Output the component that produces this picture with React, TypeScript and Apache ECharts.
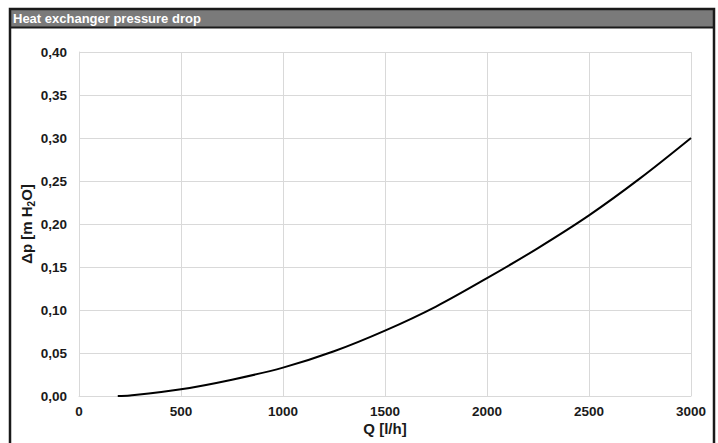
import React, { useEffect, useRef } from "react";
import * as echarts from "echarts";

const flowRates = [190, 250, 500, 750, 1000, 1250, 1500, 1750, 2000, 2250, 2500, 2750, 3000];
const pressureDrop = [0.0, 0.0006, 0.0078, 0.019, 0.033, 0.052, 0.076, 0.104, 0.137, 0.172, 0.21, 0.253, 0.3];
const xTicks = [0, 500, 1000, 1500, 2000, 2500, 3000];
const yTicks = [0, 0.05, 0.1, 0.15, 0.2, 0.25, 0.3, 0.35, 0.4];
const titleText = "Heat exchanger pressure drop";
const xName = "Q [l/h]";

export default function App() {
  const ref = useRef<HTMLDivElement>(null);
  useEffect(() => {
    if (!ref.current) return;
    const chart = echarts.init(ref.current, null, { renderer: "svg" });
    const font = "'Liberation Sans', Arial, sans-serif";
    chart.setOption({
      animation: false,
      backgroundColor: "#ffffff",
      grid: { left: 79, right: 27, top: 52, bottom: 47 },
      xAxis: {
        type: "value",
        min: xTicks[0],
        max: xTicks[xTicks.length - 1],
        interval: 500,
        name: xName,
        nameLocation: "middle",
        nameGap: 25,
        nameMoveOverlap: false,
        nameTextStyle: { fontFamily: font, fontWeight: "bold", fontSize: 15, color: "#1a1a1a" },
        axisLine: { show: true, lineStyle: { color: "#d9d9d9", width: 1 } },
        axisTick: { show: false },
        axisLabel: {
          margin: 8,
          fontFamily: font,
          fontWeight: "bold",
          fontSize: 13.5,
          color: "#1a1a1a",
          formatter: (v: number) => String(v),
        },
        splitLine: { show: true, lineStyle: { color: "#d9d9d9", width: 1 } },
      },
      yAxis: {
        type: "value",
        min: yTicks[0],
        max: yTicks[yTicks.length - 1],
        interval: 0.05,
        name: "Δp [m H{sub|2}O]",
        nameLocation: "middle",
        nameGap: 43,
        nameMoveOverlap: false,
        nameRotate: 90,
        nameTextStyle: {
          fontFamily: font,
          fontWeight: "bold",
          fontSize: 15,
          color: "#1a1a1a",
          rich: {
            sub: { fontFamily: font, fontWeight: "bold", fontSize: 10, color: "#1a1a1a", verticalAlign: "bottom", padding: [9, 0, 0, 0] },
          },
        },
        axisLine: { show: true, lineStyle: { color: "#d9d9d9", width: 1 } },
        axisTick: { show: false },
        axisLabel: {
          margin: 12,
          fontFamily: font,
          fontWeight: "bold",
          fontSize: 13.5,
          color: "#1a1a1a",
          formatter: (v: number) => v.toFixed(2).replace(".", ","),
        },
        splitLine: { show: true, lineStyle: { color: "#d9d9d9", width: 1 } },
      },
      series: [
        {
          type: "line",
          data: flowRates.map((q, i) => [q, pressureDrop[i]]),
          smooth: 0.35,
          showSymbol: false,
          lineStyle: { color: "#000000", width: 2 },
        },
      ],
      graphic: [
        {
          type: "rect",
          shape: { x: 11, y: 10, width: 702, height: 17 },
          style: { fill: "#7a7a7a" },
          z: 10,
        },
        {
          type: "rect",
          shape: { x: 10, y: 9, width: 704, height: 450 },
          style: { fill: "none", stroke: "#1a1a1a", lineWidth: 2.5 },
          z: 11,
        },
        {
          type: "line",
          shape: { x1: 10, y1: 27.5, x2: 714, y2: 27.5 },
          style: { stroke: "#1a1a1a", lineWidth: 2 },
          z: 11,
        },
        {
          type: "text",
          x: 13,
          y: 18.5,
          style: {
            text: titleText,
            fill: "#ffffff",
            font: "bold 13px 'Liberation Sans', Arial, sans-serif",
            verticalAlign: "middle",
            align: "left",
          },
          z: 12,
        },
      ],
    });
    return () => chart.dispose();
  }, []);
  return (
    <div
      ref={ref}
      style={{ position: "fixed", left: 0, top: 0, width: 718, height: 443, background: "#fff" }}
    />
  );
}
